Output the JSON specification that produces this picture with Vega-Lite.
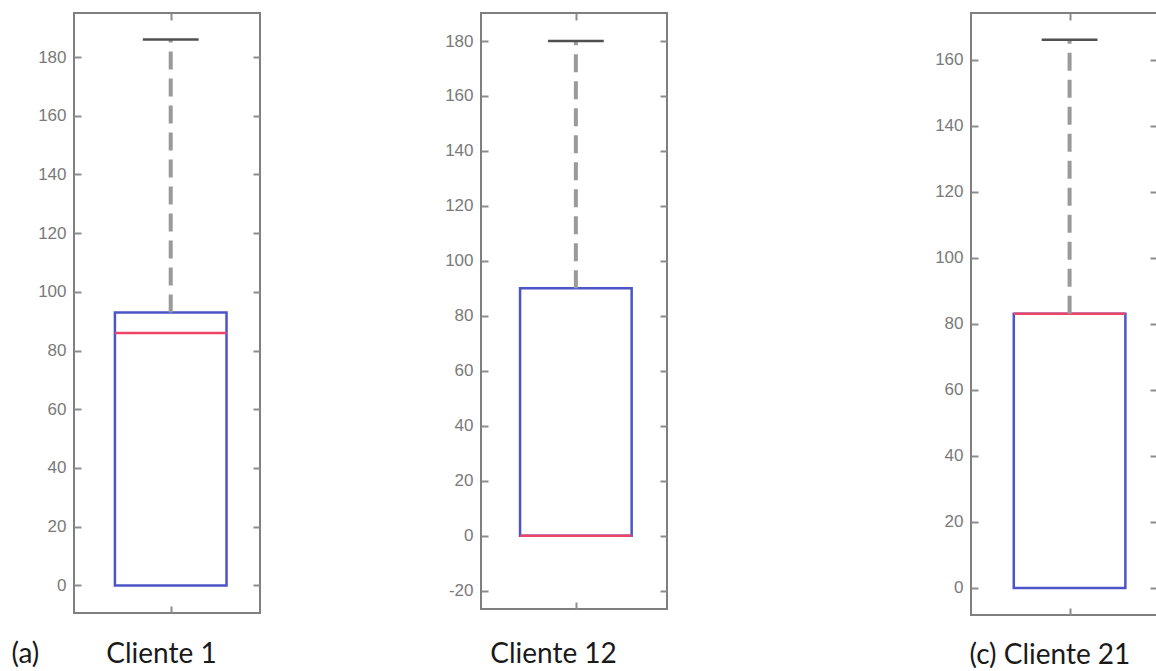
{
  "$schema": "https://vega.github.io/schema/vega-lite/v6.json",
  "background": "white",
  "padding": {"left": 10, "top": 11, "right": 0, "bottom": 0},
  "config": {
    "view": {"stroke": "#7f7f7f", "strokeWidth": 2},
    "axis": {
      "labelFont": "Liberation Sans", "labelFontSize": 17, "labelColor": "#7a7a7a",
      "tickColor": "#8c8c8c", "tickWidth": 2, "domain": false, "grid": false,
      "titleFont": "Lato", "titleFontSize": 28, "titleFontWeight": "normal", "titleColor": "#1a1a1a"
    }
  },
  "spacing": 264,
  "hconcat": [
    {
      "spacing": 181,
      "hconcat": [
        {
          "width": 186, "height": 600,
          "data": {"values": [{"cliente": "Cliente 1", "min": 0, "q1": 0, "median": 86, "q3": 93, "max": 186}]},
          "layer": [
            {"mark": {"type": "rect", "filled": false, "stroke": "#4b55c8", "strokeWidth": 2.5},
             "encoding": {
               "x": {"datum": 0.7, "type": "quantitative", "scale": {"domain": [0.48, 1.48], "nice": false, "zero": false},
                     "axis": {"orient": "bottom", "values": [1], "tickSize": -7, "labels": false, "title": "Cliente 1", "titleBaseline": "alphabetic", "titleY": 49, "titleX": 87, "titleAlign": "center"}},
               "x2": {"datum": 1.3},
               "y": {"field": "q1", "type": "quantitative", "scale": {"domain": [-9.4, 195], "nice": false, "zero": false},
                     "axis": {"orient": "left", "values": [0, 20, 40, 60, 80, 100, 120, 140, 160, 180], "tickSize": -7, "labelPadding": 15, "title": "(a)", "titleAngle": 0, "titleAlign": "left", "titleBaseline": "alphabetic", "titleX": -63, "titleY": 649}},
               "y2": {"field": "q3"}
             }},
            {"mark": {"type": "rule", "stroke": "#ee4466", "strokeWidth": 2.5},
             "encoding": {
               "x": {"datum": 0.7, "type": "quantitative", "axis": {"orient": "top", "values": [1], "tickSize": -7, "labels": false, "title": null}},
               "x2": {"datum": 1.3},
               "y": {"field": "median", "type": "quantitative", "axis": {"orient": "right", "values": [0, 20, 40, 60, 80, 100, 120, 140, 160, 180], "tickSize": -7, "labels": false, "title": null}}
             }},
            {"mark": {"type": "rule", "stroke": "#9a9a9a", "strokeWidth": 4, "strokeDash": [18, 9]},
             "encoding": {
               "x": {"datum": 1, "type": "quantitative", "axis": null},
               "y": {"field": "q3", "type": "quantitative", "axis": null},
               "y2": {"field": "max"}
             }},
            {"mark": {"type": "rule", "stroke": "#505050", "strokeWidth": 2.5},
             "encoding": {
               "x": {"datum": 0.85, "type": "quantitative", "axis": null},
               "x2": {"datum": 1.15},
               "y": {"field": "max", "type": "quantitative", "axis": null}
             }}
          ],
          "resolve": {"axis": {"x": "independent", "y": "independent"}}
        },
        {
          "width": 186, "height": 596,
          "data": {"values": [{"cliente": "Cliente 12", "min": 0, "q1": 0, "median": 0, "q3": 90, "max": 180}]},
          "layer": [
            {"mark": {"type": "rect", "filled": false, "stroke": "#4b55c8", "strokeWidth": 2.5},
             "encoding": {
               "x": {"datum": 0.7, "type": "quantitative", "scale": {"domain": [0.49, 1.49], "nice": false, "zero": false},
                     "axis": {"orient": "bottom", "values": [1], "tickSize": -7, "labels": false, "title": "Cliente 12", "titleBaseline": "alphabetic", "titleY": 53, "titleX": 72, "titleAlign": "center"}},
               "x2": {"datum": 1.3},
               "y": {"field": "q1", "type": "quantitative", "scale": {"domain": [-26.7, 190.2], "nice": false, "zero": false},
                     "axis": {"orient": "left", "values": [-20, 0, 20, 40, 60, 80, 100, 120, 140, 160, 180], "labelExpr": "datum.value < 0 ? '-' + abs(datum.value) : datum.label", "tickSize": -7, "labelPadding": 15, "title": null}},
               "y2": {"field": "q3"}
             }},
            {"mark": {"type": "rule", "stroke": "#ee4466", "strokeWidth": 2.5},
             "encoding": {
               "x": {"datum": 0.7, "type": "quantitative", "axis": {"orient": "top", "values": [1], "tickSize": -7, "labels": false, "title": null}},
               "x2": {"datum": 1.3},
               "y": {"field": "median", "type": "quantitative", "axis": {"orient": "right", "values": [-20, 0, 20, 40, 60, 80, 100, 120, 140, 160, 180], "tickSize": -7, "labels": false, "title": null}}
             }},
            {"mark": {"type": "rule", "stroke": "#9a9a9a", "strokeWidth": 4, "strokeDash": [18, 9]},
             "encoding": {
               "x": {"datum": 1, "type": "quantitative", "axis": null},
               "y": {"field": "q3", "type": "quantitative", "axis": null},
               "y2": {"field": "max"}
             }},
            {"mark": {"type": "rule", "stroke": "#505050", "strokeWidth": 2.5},
             "encoding": {
               "x": {"datum": 0.85, "type": "quantitative", "axis": null},
               "x2": {"datum": 1.15},
               "y": {"field": "max", "type": "quantitative", "axis": null}
             }}
          ],
          "resolve": {"axis": {"x": "independent", "y": "independent"}}
        }
      ]
    },
    {
      "width": 186, "height": 602,
      "data": {"values": [{"cliente": "Cliente 21", "min": 0, "q1": 0, "median": 83, "q3": 83, "max": 166}]},
      "layer": [
        {"mark": {"type": "rect", "filled": false, "stroke": "#4b55c8", "strokeWidth": 2.5},
         "encoding": {
           "x": {"datum": 0.7, "type": "quantitative", "scale": {"domain": [0.47, 1.47], "nice": false, "zero": false},
                 "axis": {"orient": "bottom", "values": [1], "tickSize": -7, "labels": false, "title": "(c) Cliente 21", "titleBaseline": "alphabetic", "titleY": 48, "titleX": -2, "titleAlign": "left"}},
           "x2": {"datum": 1.3},
           "y": {"field": "q1", "type": "quantitative", "scale": {"domain": [-8.2, 174.1], "nice": false, "zero": false},
                 "axis": {"orient": "left", "values": [0, 20, 40, 60, 80, 100, 120, 140, 160], "tickSize": -7, "labelPadding": 15, "title": null}},
           "y2": {"field": "q3"}
         }},
        {"mark": {"type": "rule", "stroke": "#ee4466", "strokeWidth": 2.5},
         "encoding": {
           "x": {"datum": 0.7, "type": "quantitative", "axis": {"orient": "top", "values": [1], "tickSize": -7, "labels": false, "title": null}},
           "x2": {"datum": 1.3},
           "y": {"field": "median", "type": "quantitative", "axis": {"orient": "right", "values": [0, 20, 40, 60, 80, 100, 120, 140, 160], "tickSize": -7, "labels": false, "title": null}}
         }},
        {"mark": {"type": "rule", "stroke": "#9a9a9a", "strokeWidth": 4, "strokeDash": [18, 9]},
         "encoding": {
           "x": {"datum": 1, "type": "quantitative", "axis": null},
           "y": {"field": "q3", "type": "quantitative", "axis": null},
           "y2": {"field": "max"}
         }},
        {"mark": {"type": "rule", "stroke": "#505050", "strokeWidth": 2.5},
         "encoding": {
           "x": {"datum": 0.85, "type": "quantitative", "axis": null},
           "x2": {"datum": 1.15},
           "y": {"field": "max", "type": "quantitative", "axis": null}
         }}
      ],
      "resolve": {"axis": {"x": "independent", "y": "independent"}}
    }
  ]
}
